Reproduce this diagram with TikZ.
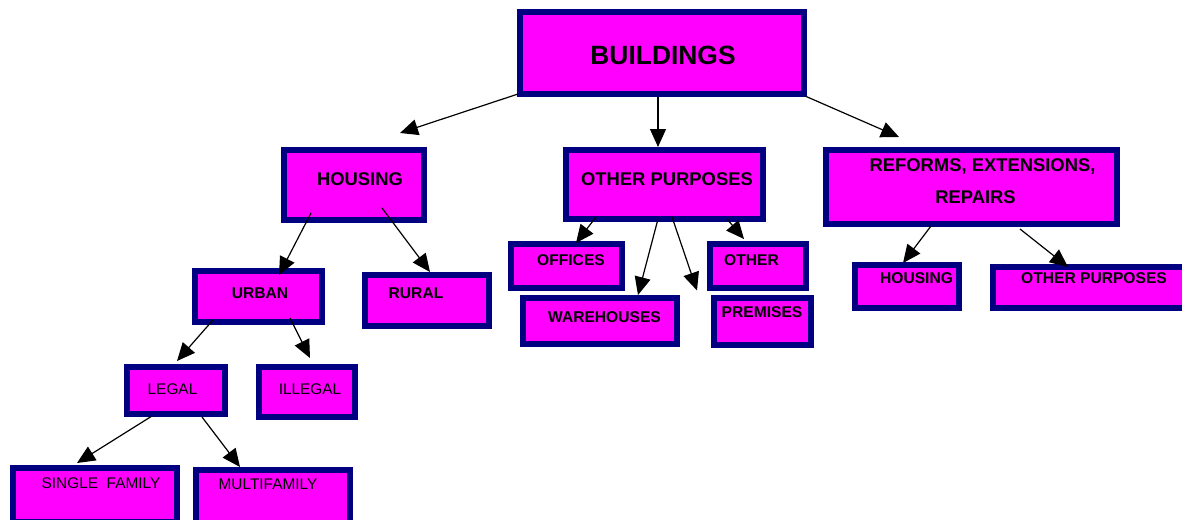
\documentclass[tikz,border=0pt]{standalone}
\usepackage{fontspec}
\setmainfont{Liberation Sans}
\usetikzlibrary{arrows.meta,calc}
\definecolor{boxfill}{HTML}{FF00FF}
\definecolor{boxline}{HTML}{000080}
\tikzset{
  box/.style={rectangle, draw=boxline, fill=boxfill, line width=6pt, inner sep=0pt, outer sep=0pt},
  toptxt/.style={inner sep=0pt, anchor=base, text=black, font=\fontsize{26.4}{30}\selectfont\bfseries},
  midtxt/.style={inner sep=0pt, anchor=base, text=black, font=\fontsize{18.4}{22}\selectfont\bfseries},
  lowtxt/.style={inner sep=0pt, anchor=base, text=black, font=\fontsize{15.6}{19}\selectfont\bfseries},
  plaintxt/.style={inner sep=0pt, anchor=base, text=black, font=\fontsize{15.4}{19}\selectfont},
  conn/.style={draw=black, line width=1.2pt, -{Triangle[length=18pt,width=16pt]}}
}
\begin{document}
\begin{tikzpicture}[x=1pt,y=-1pt]
\useasboundingbox (0,0) rectangle (1182,519);
\clip (0,0) rectangle (1182,519);
\fill[white] (0,0) rectangle (1182,519);
% boxes
\node[box, minimum width=284, minimum height=82] (buildings) at (662,53) {};
\node[box, minimum width=140, minimum height=70] (housing) at (354,185) {};
\node[box, minimum width=197, minimum height=69] (otherp) at (664.5,184.5) {};
\node[box, minimum width=291, minimum height=74] (reforms) at (971.5,187) {};
\node[box, minimum width=127, minimum height=51] (urban) at (258.5,296.5) {};
\node[box, minimum width=124, minimum height=51] (rural) at (427,300.5) {};
\node[box, minimum width=111, minimum height=44] (offices) at (566.5,266) {};
\node[box, minimum width=154, minimum height=46] (warehouses) at (600,321) {};
\node[box, minimum width=96, minimum height=44] (other) at (758,266) {};
\node[box, minimum width=97, minimum height=47] (premises) at (762.5,321.5) {};
\node[box, minimum width=104, minimum height=43] (housingB) at (907,286.5) {};
\node[box, minimum width=204, minimum height=41] (otherpB) at (1095,287.5) {};
\node[box, minimum width=98, minimum height=47] (legal) at (176,390.5) {};
\node[box, minimum width=96, minimum height=50] (illegal) at (307,392) {};
\node[box, minimum width=164, minimum height=54] (single) at (95,495) {};
\node[box, minimum width=154, minimum height=54] (multi) at (273,497) {};
% texts
\node[toptxt] (buildingsT) at (663,64.5) {BUILDINGS};
\node[midtxt] (housingT) at (360,185.6) {HOUSING};
\node[midtxt] (otherpT) at (667,185.6) {OTHER PURPOSES};
\node[midtxt] (reformsT1) at (982.5,171.6) {REFORMS, EXTENSIONS,};
\node[midtxt] (reformsT2) at (975.5,203.6) {REPAIRS};
\node[lowtxt] (urbanT) at (260,298.5) {URBAN};
\node[lowtxt] (ruralT) at (416,298.5) {RURAL};
\node[lowtxt] (officesT) at (571,265.5) {OFFICES};
\node[lowtxt] (warehousesT) at (604.5,322.5) {WAREHOUSES};
\node[lowtxt] (otherT) at (751.5,265.5) {OTHER};
\node[lowtxt] (premisesT) at (762,317.5) {PREMISES};
\node[lowtxt] (housingBT) at (916.5,283.5) {HOUSING};
\node[lowtxt] (otherpBT) at (1094,283.5) {OTHER PURPOSES};
\node[plaintxt] (legalT) at (172.5,394.5) {LEGAL};
\node[plaintxt] (illegalT) at (310,394.5) {ILLEGAL};
\node[plaintxt] (singleT) at (101,488.5) {SINGLE~~FAMILY};
\node[plaintxt] (multiT) at (268,489.5) {MULTIFAMILY};
% free end
\coordinate (loose) at ($(otherp)+(32.5,106)$);
% connectors
\draw[conn] ($(buildings)+(-144,41)$) -- ($(housing)+(46,-52)$);
\draw[conn] ($(buildings)+(-4,44)$) -- ($(otherp)+(-6.5,-37.5)$);
\draw[conn] ($(buildings)+(143,43)$) -- ($(reforms)+(-72.5,-50)$);
\draw[conn] ($(housing)+(-43,28)$) -- ($(urban)+(20.5,-21.5)$);
\draw[conn] ($(housing)+(28,23)$) -- ($(rural)+(3,-28.5)$);
\draw[conn] ($(urban)+(-45.5,23.5)$) -- ($(legal)+(1,-29.5)$);
\draw[conn] ($(urban)+(31.5,21.5)$) -- ($(illegal)+(3,-34)$);
\draw[conn] ($(legal)+(-24,25.5)$) -- ($(single)+(-18,-32)$);
\draw[conn] ($(legal)+(26,26.5)$) -- ($(multi)+(-33,-30)$);
\draw[conn] ($(otherp)+(-68.5,32.5)$) -- ($(offices)+(9.5,-23)$);
\draw[conn] ($(otherp)+(-6.5,34.5)$) -- ($(warehouses)+(38,-26)$);
\draw[conn] ($(otherp)+(7.5,32.5)$) -- (loose);
\draw[conn] ($(otherp)+(62.5,34.5)$) -- ($(other)+(-14,-27)$);
\draw[conn] ($(reforms)+(-40.5,39)$) -- ($(housingB)+(-4,-23.5)$);
\draw[conn] ($(reforms)+(48.5,42)$) -- ($(otherpB)+(-27,-20.5)$);
\end{tikzpicture}
\end{document}
